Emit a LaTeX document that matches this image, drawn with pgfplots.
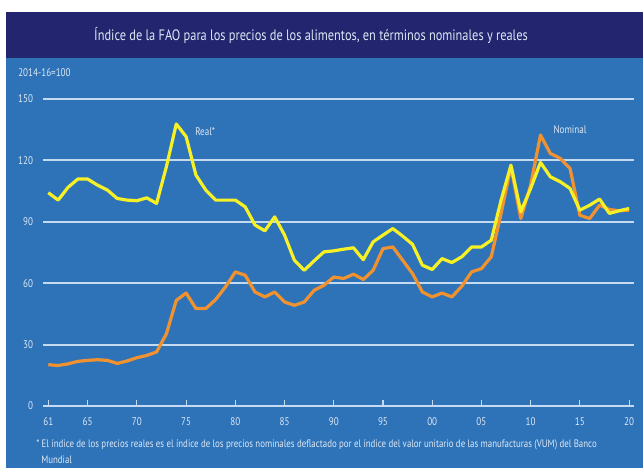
\documentclass[border=0pt]{standalone}
\usepackage{fontspec}
\setmainfont{PT Sans}[FakeStretch=0.82]
\usepackage{pgfplots}
\usepackage{pgfplotstable}
\pgfplotsset{compat=1.18}
\definecolor{navy}{RGB}{35,37,110}
\definecolor{panel}{RGB}{46,115,184}
\definecolor{gridc}{RGB}{196,218,240}
\definecolor{txtc}{RGB}{222,232,245}
\definecolor{realc}{RGB}{246,240,38}
\definecolor{nomc}{RGB}{240,146,48}
\pgfplotstableread{
year real nominal
1961 104.2 20.2
1962 100.6 19.8
1963 106.8 20.6
1964 110.9 21.8
1965 110.9 22.3
1966 107.9 22.6
1967 105.5 22.3
1968 101.4 20.8
1969 100.6 22.0
1970 100.3 23.6
1971 101.7 24.7
1972 99.0 26.4
1973 117.0 35.3
1974 137.8 51.6
1975 131.6 55.2
1976 112.8 47.6
1977 105.5 47.6
1978 100.6 52.0
1979 100.6 58.2
1980 100.6 65.5
1981 97.3 63.9
1982 88.4 55.7
1983 85.6 53.3
1984 92.4 55.7
1985 83.5 50.8
1986 71.2 49.2
1987 66.3 50.8
1988 70.9 56.5
1989 75.3 59.0
1990 75.8 63.0
1991 76.6 62.3
1992 77.3 64.4
1993 71.5 61.8
1994 80.2 66.3
1995 83.5 76.9
1996 86.7 77.7
1997 83.0 71.2
1998 79.0 64.7
1999 68.8 55.7
2000 66.7 53.3
2001 72.0 55.2
2002 70.1 53.3
2003 72.9 58.5
2004 77.7 65.5
2005 77.7 67.1
2006 81.0 72.9
2007 100.6 94.1
2008 117.7 116.9
2009 94.9 91.6
2010 106.3 107.9
2011 119.0 132.4
2012 112.0 123.4
2013 109.6 121.0
2014 106.3 116.1
2015 95.7 93.2
2016 98.1 91.6
2017 101.1 98.1
2018 94.1 96.0
2019 95.4 95.4
2020 96.5 95.7
}\datatable
\begin{document}
\begin{tikzpicture}
\begin{scope}[x=0.75pt,y=0.75pt]
\useasboundingbox (0,0) rectangle (643,468);
\fill[white] (0,0) rectangle (643,468);
\fill[navy] (6,410) rectangle (643,456);
\fill[panel] (6,0) rectangle (643,410);
\node[text=txtc,font=\fontsize{11.3}{13}\selectfont] at (311,433) {Índice de la FAO para los precios de los alimentos, en términos nominales y reales};
\node[text=txtc,anchor=west,inner sep=0pt,font=\fontsize{8.3}{10}\selectfont] at (18,395) {2014-16=100};
\node[text=txtc,anchor=west,inner sep=0pt,font=\fontsize{8.1}{9}\selectfont] at (36,23) {* El índice de los precios reales es el índice de los precios nominales deflactado por el índice del valor unitario de las manufacturas (VUM) del Banco};
\node[text=txtc,anchor=west,inner sep=0pt,font=\fontsize{8.1}{9}\selectfont] at (41,8) {Mundial};
\end{scope}
\begin{axis}[
  at={(32.25pt,46.5pt)}, anchor=south west,
  scale only axis, width=443.25pt, height=230.25pt,
  xmin=1960.46, xmax=2020.5, ymin=0, ymax=150,
  axis line style={draw=none},
  ytick={0,30,60,90,120,150},
  ymajorgrids, major grid style={gridc, line width=1.4pt},
  ytick style={draw=none},
  xtick={1961,1965,1970,1975,1980,1985,1990,1995,2000,2005,2010,2015,2020},
  xticklabels={61,65,70,75,80,85,90,95,00,05,10,15,20},
  xtick pos=bottom, tick align=inside, major tick length=4.5pt,
  xtick style={gridc, line width=0.8pt},
  tick label style={text=txtc, font=\fontsize{8.3}{9}\selectfont},
  /pgf/number format/assume math mode=true,
  yticklabel style={xshift=-4pt},
  xticklabel style={yshift=-5pt},
  clip=false,
]
\addplot[nomc, line width=2.4pt, line join=round] table[x=year,y=nominal] {\datatable};
\addplot[realc, line width=2.4pt, line join=round] table[x=year,y=real] {\datatable};
\node[text=txtc,anchor=west,inner sep=0pt,font=\fontsize{8.3}{9}\selectfont] at (axis cs:1975.9,134.3) {Real*};
\node[text=txtc,anchor=west,inner sep=0pt,font=\fontsize{8.3}{9}\selectfont] at (axis cs:2012.3,134.8) {Nominal};
\end{axis}
\end{tikzpicture}
\end{document}
